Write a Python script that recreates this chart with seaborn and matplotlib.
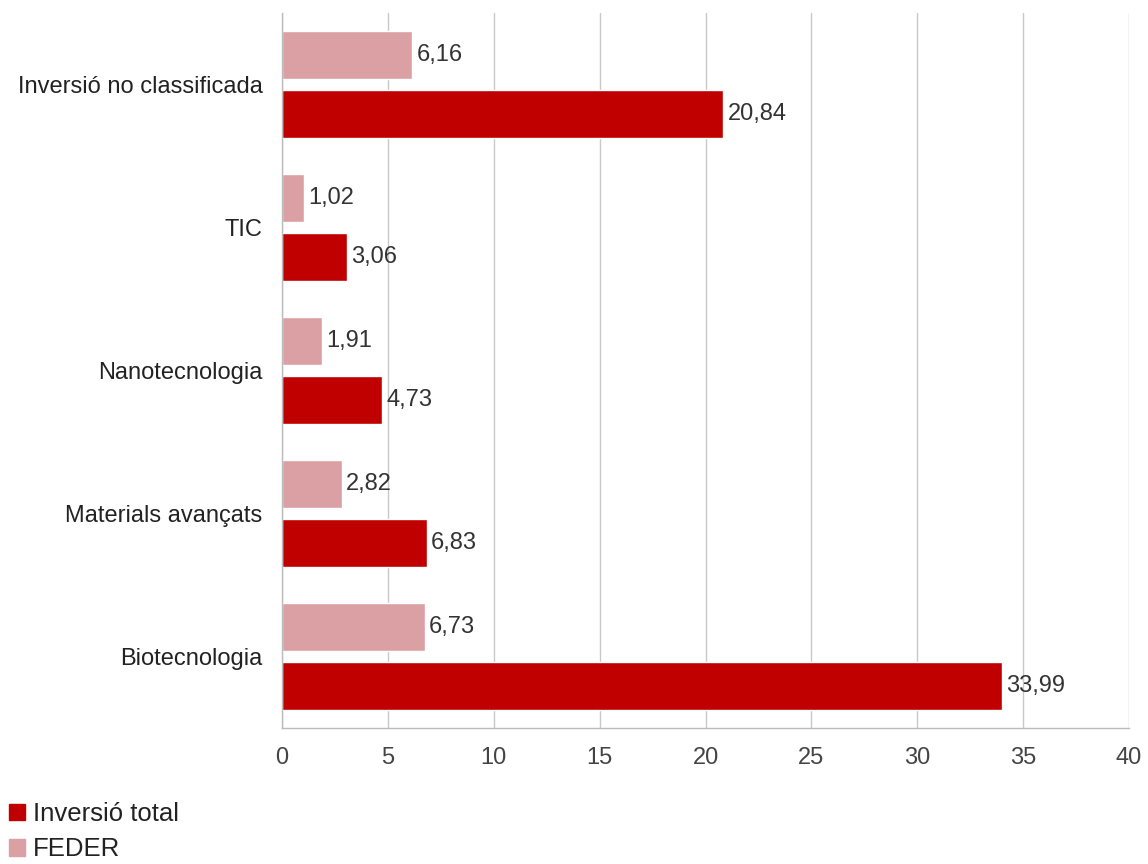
import matplotlib
matplotlib.use("Agg")
import matplotlib.pyplot as plt
import seaborn as sns
import pandas as pd
from matplotlib.patches import Patch

categories = ["Inversió no classificada", "TIC", "Nanotecnologia", "Materials avançats", "Biotecnologia"]
feder = [6.16, 1.02, 1.91, 2.82, 6.73]
total = [20.84, 3.06, 4.73, 6.83, 33.99]
series_names = ["Inversió total", "FEDER"]
xticks = [0, 5, 10, 15, 20, 25, 30, 35, 40]

colors = {"Inversió total": "#C00000", "FEDER": "#DBA0A4"}

df = pd.DataFrame({
    "cat": categories * 2,
    "val": feder + total,
    "serie": ["FEDER"] * len(categories) + ["Inversió total"] * len(categories),
})

sns.set_style("white")
plt.rcParams["font.family"] = ["Liberation Sans", "DejaVu Sans"]

fig = plt.figure(figsize=(11.48, 8.64), dpi=100)
ax = fig.add_axes([282 / 1148, 1 - 728 / 864, (1129 - 282) / 1148, (728 - 13) / 864])

sns.barplot(data=df, x="val", y="cat", hue="serie", order=categories,
            hue_order=["FEDER", "Inversió total"], palette=colors,
            orient="h", width=0.825, gap=0.186, ax=ax, legend=False,
            saturation=1, errorbar=None)

for cont in ax.containers:
    labels = [f"{b.get_width():.2f}".replace(".", ",") for b in cont]
    ax.bar_label(cont, labels=labels, padding=3, fontsize=17, color="#333333")

ax.set_xlim(0, 40)
ax.set_xticks(xticks)
ax.set_xticklabels([str(t) for t in xticks], fontsize=17, color="#444444")
ax.tick_params(axis="x", length=0, pad=14)
ax.tick_params(axis="y", length=0, pad=14, labelsize=17, labelcolor="#222222")
ax.set_xlabel("")
ax.set_ylabel("")
ax.grid(axis="x", color="#C8C8C8", linewidth=1)
ax.set_axisbelow(True)
for s in ["top", "right"]:
    ax.spines[s].set_visible(False)
for s in ["left", "bottom"]:
    ax.spines[s].set_color("#BBBBBB")
    ax.spines[s].set_linewidth(1)

handles = [Patch(color=colors[n]) for n in series_names]
fig.legend(handles, series_names, loc="lower left", bbox_to_anchor=(0.006, 0.0),
           frameon=False, fontsize=18.5, handlelength=0.6, handleheight=0.6,
           handletextpad=0.3, labelspacing=0.45, borderaxespad=0.0,
           borderpad=0.1, labelcolor="#222222")

fig.savefig("out.png", dpi=100)
